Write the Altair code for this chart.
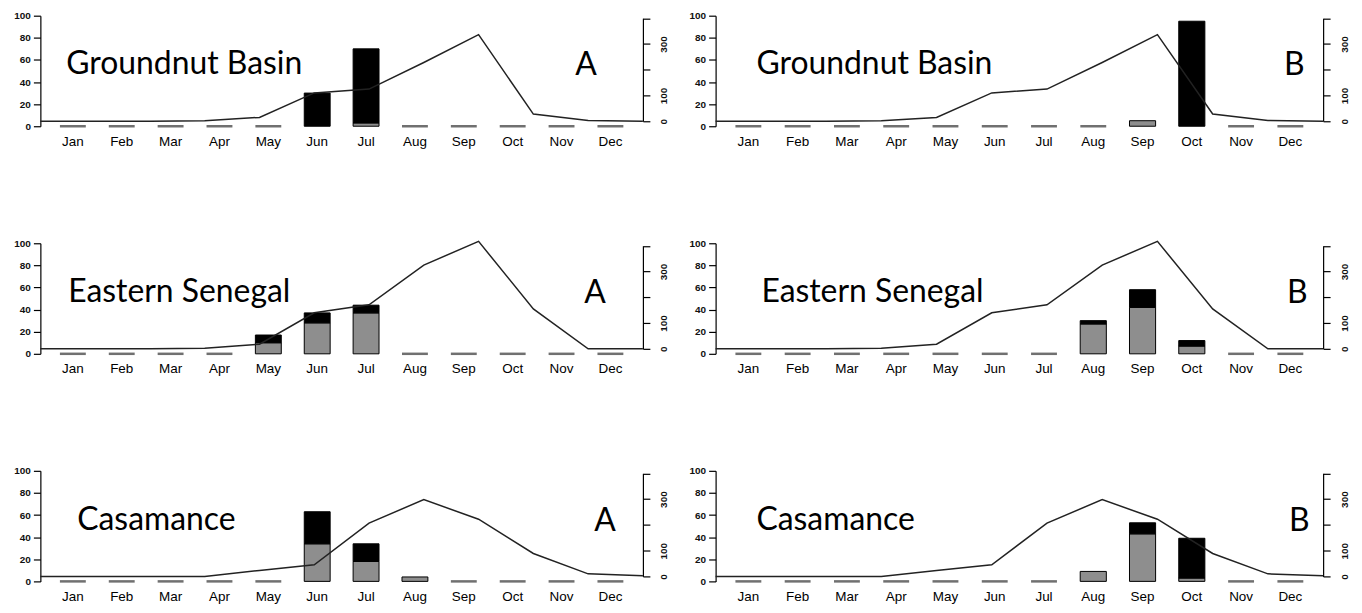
import altair as alt
import pandas as pd

months = ["Jan", "Feb", "Mar", "Apr", "May", "Jun", "Jul", "Aug", "Sep", "Oct", "Nov", "Dec"]
month_num = list(range(1, 13))

# monthly rainfall (mm, right axis)
rain_groundnut = [0, 0, 0, 2, 15, 110, 125, 228, 336, 28, 3, 0]
rain_eastern = [0, 0, 0, 2, 18, 140, 171, 325, 417, 155, 0, 0]
rain_casamance = [0, 0, 0, 0, 23, 45, 207, 298, 222, 89, 10, 3]

# percentages (left axis): grey part (bottom) and black part (top)
gray_gb_A = [0, 0, 0, 0, 0, 0, 3, 0, 0, 0, 0, 0]
black_gb_A = [0, 0, 0, 0, 0, 30, 67, 0, 0, 0, 0, 0]
gray_gb_B = [0, 0, 0, 0, 0, 0, 0, 0, 5, 0, 0, 0]
black_gb_B = [0, 0, 0, 0, 0, 0, 0, 0, 0, 95, 0, 0]
gray_es_A = [0, 0, 0, 0, 10, 28, 37, 0, 0, 0, 0, 0]
black_es_A = [0, 0, 0, 0, 7, 9, 7, 0, 0, 0, 0, 0]
gray_es_B = [0, 0, 0, 0, 0, 0, 0, 27, 42, 7, 0, 0]
black_es_B = [0, 0, 0, 0, 0, 0, 0, 3, 16, 5, 0, 0]
gray_ca_A = [0, 0, 0, 0, 0, 34, 18, 4, 0, 0, 0, 0]
black_ca_A = [0, 0, 0, 0, 0, 29, 16, 0, 0, 0, 0, 0]
gray_ca_B = [0, 0, 0, 0, 0, 0, 0, 9, 43, 3, 0, 0]
black_ca_B = [0, 0, 0, 0, 0, 0, 0, 0, 10, 36, 0, 0]

pct_ticks = [0, 20, 40, 60, 80, 100]
rain_ticks = [0, 100, 200, 300, 400]

regions = ["Groundnut Basin", "Eastern Senegal", "Casamance"]
periods = ["A", "B"]

W_LEFT, W_RIGHT, H = 605, 610, 111
NAME_X = {("Groundnut Basin", "A"): 26, ("Groundnut Basin", "B"): 41,
          ("Eastern Senegal", "A"): 28, ("Eastern Senegal", "B"): 46,
          ("Casamance", "A"): 37, ("Casamance", "B"): 41}
LETTER_X = {("Groundnut Basin", "A"): 548, ("Groundnut Basin", "B"): 581,
            ("Eastern Senegal", "A"): 557, ("Eastern Senegal", "B"): 584,
            ("Casamance", "A"): 567, ("Casamance", "B"): 586}

HEAD_FONT = "Lato"
LABEL_FONT = "Liberation Sans"


def left_axis():
    return alt.Axis(title=None, values=pct_ticks, tickSize=7,
                    tickColor="black", domainColor="black", tickWidth=1.2, domainWidth=1.2,
                    labelPadding=3, labelFontSize=10, labelFont=LABEL_FONT,
                    labelFontWeight="bold", labelColor="#111", grid=False,
                    labelOverlap=False, labelSeparation=0, labelFlush=False, labelBound=False)


def panel(region, period, rain, gray, black, width):
    rows = []
    for m, g, b in zip(months, gray, black):
        if g > 0:
            rows.append({"month": m, "part": "gray", "ord": 0, "pct": g})
        if b > 0:
            rows.append({"month": m, "part": "black", "ord": 1, "pct": b})
    bars_df = pd.DataFrame(rows)
    zero_df = pd.DataFrame({"month": [m for m, g, b in zip(months, gray, black) if g + b == 0]})
    zero_df["pct"] = 0
    line_df = pd.DataFrame({"num": month_num, "rain": rain})

    xaxis = alt.Axis(title=None, labelAngle=0, ticks=False, tickSize=0, domain=False,
                     grid=False, labelPadding=8, labelFontSize=13.5, labelFont=LABEL_FONT,
                     labelColor="black")
    xscale = alt.Scale(domain=months, paddingInner=0.47, paddingOuter=0.4)
    yscale = alt.Scale(domain=[0, 100], nice=False)

    bars = alt.Chart(bars_df).mark_bar(stroke="black", strokeWidth=1).encode(
        x=alt.X("month:N", sort=months, scale=xscale, axis=xaxis),
        y=alt.Y("pct:Q", stack="zero", scale=yscale, axis=left_axis()),
        color=alt.Color("part:N", scale=alt.Scale(domain=["gray", "black"], range=["#8e8e8e", "#000000"]),
                        legend=None),
        order=alt.Order("ord:Q"))
    dashes = alt.Chart(zero_df).mark_tick(orient="horizontal", thickness=2.5, size=26, color="#333").encode(
        x=alt.X("month:N", sort=months, scale=xscale, axis=xaxis),
        y=alt.Y("pct:Q", scale=yscale, axis=left_axis()))

    line = alt.Chart(line_df).mark_line(color="#222", strokeWidth=1.5).encode(
        x=alt.X("num:Q", scale=alt.Scale(domain=[1, 12], nice=False, zero=False), axis=None),
        y=alt.Y("rain:Q", scale=alt.Scale(domain=[0, 400], range=[106, 2.5], nice=False, zero=False),
                axis=alt.Axis(title=None, orient="right", values=rain_ticks,
                              labelExpr="(datum.value == 200 || datum.value == 400) ? '' : datum.label",
                              tickSize=7, tickColor="black", domainColor="black", tickWidth=1.2,
                              domainWidth=1.2, labelAngle=270, labelAlign="center", labelBaseline="top",
                              labelPadding=9, labelFontSize=10, labelFont=LABEL_FONT,
                              labelFontWeight="bold", labelColor="#111", grid=False,
                              labelOverlap=False, labelFlush=False)))

    head = alt.Chart(pd.DataFrame({"t": [region]})).mark_text(
        align="left", baseline="middle", font=HEAD_FONT, fontSize=32, color="black").encode(
        x=alt.value(NAME_X[(region, period)]), y=alt.value(49), text="t:N")
    letter = alt.Chart(pd.DataFrame({"t": [period]})).mark_text(
        align="center", baseline="middle", font=HEAD_FONT, fontSize=32, color="black").encode(
        x=alt.value(LETTER_X[(region, period)]), y=alt.value(50), text="t:N")

    return alt.layer(alt.layer(bars, dashes), line, head, letter).resolve_scale(
        x="independent", y="independent", color="independent").properties(width=width, height=H)


data = {
    "Groundnut Basin": (rain_groundnut, {"A": (gray_gb_A, black_gb_A), "B": (gray_gb_B, black_gb_B)}),
    "Eastern Senegal": (rain_eastern, {"A": (gray_es_A, black_es_A), "B": (gray_es_B, black_es_B)}),
    "Casamance": (rain_casamance, {"A": (gray_ca_A, black_ca_A), "B": (gray_ca_B, black_ca_B)}),
}

rows = []
for reg in regions:
    rain, parts = data[reg]
    pa = panel(reg, "A", rain, parts["A"][0], parts["A"][1], W_LEFT)
    pb = panel(reg, "B", rain, parts["B"][0], parts["B"][1], W_RIGHT)
    rows.append(alt.hconcat(pa, pb, spacing=73, bounds="flush"))

chart = alt.vconcat(*rows, spacing=228.5, bounds="flush").properties(
    padding={"left": 5.5, "top": 1.5, "right": 5, "bottom": 5}
).configure_view(stroke=None)

chart.save("out.html", embed_options={"renderer": "svg", "actions": False})
